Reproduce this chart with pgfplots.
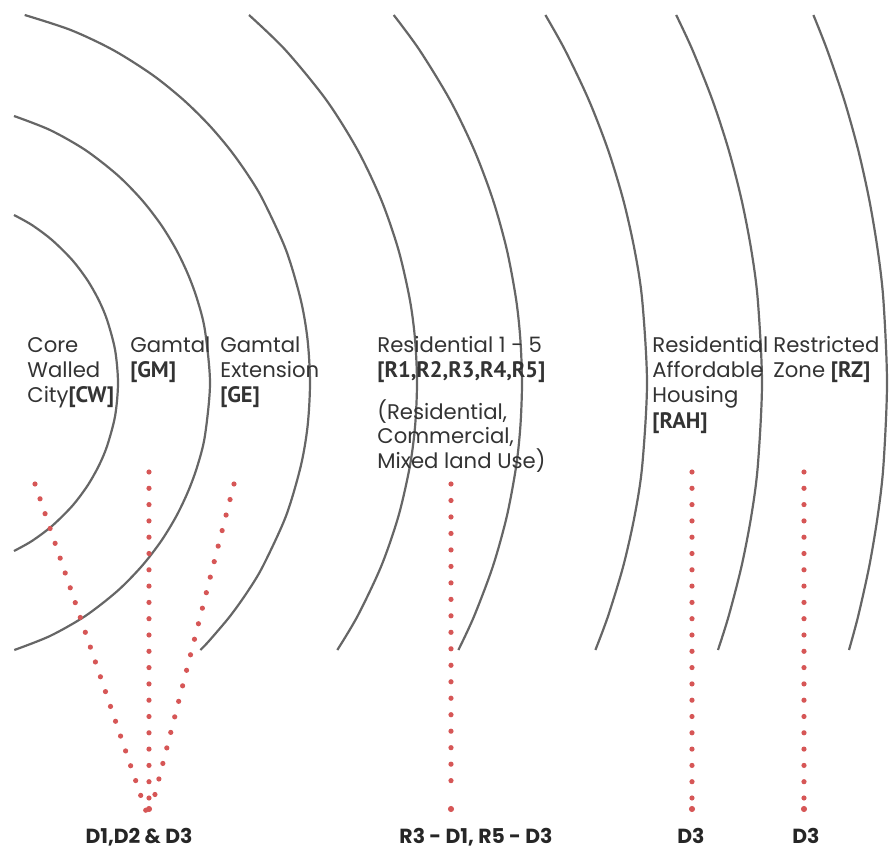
\documentclass[border=0pt]{standalone}
\usepackage{pgfplots}
\pgfplotsset{compat=1.18}
\usepackage{fontspec}
\setmainfont{Poppins}
\newfontfamily\ptsans{PT Sans}
\definecolor{arcgray}{HTML}{666666}
\definecolor{dotred}{HTML}{D65656}
\definecolor{txt}{HTML}{333333}
\newcommand{\B}[1]{{\ptsans\fontsize{11.2}{12}\selectfont\bfseries #1}}

\begin{document}
\begin{tikzpicture}[
  lbl/.style={inner sep=0pt, anchor=base west, text=txt, font=\fontsize{10.6}{12}\selectfont},
  note/.style={inner sep=0pt, anchor=base, text=black!85, font=\fontsize{10.2}{12}\selectfont\bfseries},
]
\begin{axis}[
  x=0.5pt, y=0.5pt, y dir=reverse,
  xmin=0, xmax=891, ymin=0, ymax=851,
  hide axis, clip=false,
]
% invisible frame, keeps the page size
\addplot[draw=none] coordinates {(0,0) (891,851)};

% concentric zone boundaries
\addplot[arcgray, line width=1.1pt, smooth] coordinates {
  (14,215) (31.9,225) (52,240) (72.2,260) (87.3,280) (98.7,300) (107.1,320) (115.1,350) (118,383)
  (115.1,416) (107.1,446) (98.7,466) (87.3,486) (72.2,506) (52,526) (31.9,541) (14,551)};
\addplot[arcgray, line width=1.1pt, smooth] coordinates {
  (14,116) (50,130) (85.3,150) (117.4,175) (141.9,200) (161.2,225) (176.4,250) (188.3,275) (197.4,300) (204.9,330) (210,383)
  (204.9,436) (197.4,466) (188.3,491) (176.4,516) (161.2,541) (141.9,566) (117.4,591) (85.3,616) (50,636) (14.3,650)};
\addplot[arcgray, line width=1.1pt, smooth] coordinates {
  (24.7,15) (70.7,30) (113.1,50) (152.6,75) (183.6,100) (209,125) (230.2,150) (248,175) (263,200) (286,250) (300.8,300) (307.6,340) (310,383)
  (307.6,426) (300.8,466) (286,516) (263,566) (248,591) (230.2,616) (209,641) (200.4,650)};
\addplot[arcgray, line width=1.1pt, smooth] coordinates {
  (249,15) (285.4,50) (326.3,100) (357.6,150) (381.3,200) (398.5,250) (409.9,300) (415.1,340) (417,383) (415.1,426) (409.9,466) (398.5,516) (381.3,566) (357.6,616) (337.3,650)};
\addplot[arcgray, line width=1.1pt, smooth] coordinates {
  (393.7,15) (419.5,50) (450,100) (474.2,150) (493,200) (506.9,250) (516.2,300) (520.4,340) (522,383) (520.4,426) (516.2,466) (506.9,516) (493,566) (474.2,616) (458.4,650)};
\addplot[arcgray, line width=1.1pt, smooth] coordinates {
  (545.4,15) (565,50) (588.8,100) (608.1,150) (623.3,200) (634.6,250) (642.2,300) (647,383) (642.2,466) (634.6,516) (623.3,566) (608.1,616) (595.4,650)};
\addplot[arcgray, line width=1.1pt, smooth] coordinates {
  (676.2,15) (692.5,50) (712.4,100) (728.7,150) (741.6,200) (751.3,250) (757.8,300) (762,383) (757.8,466) (751.3,516) (741.6,566) (728.7,616) (718,650)};
\addplot[arcgray, line width=1.1pt, smooth] coordinates {
  (813.4,15) (827.2,50) (844.2,100) (858.2,150) (869.3,200) (877.7,250) (883.4,300) (887,383) (883.4,466) (877.7,516) (869.3,566) (858.2,616) (849,650)};

% dotted leaders
\addplot[dotred, line width=2.6pt, line cap=round, dash pattern=on 0pt off 7.83pt] coordinates {(35,484) (146,811)};
\addplot[dotred, line width=2.6pt, line cap=round, dash pattern=on 0pt off 8.01pt] coordinates {(234,484) (151,810)};
\addplot[dotred, line width=2.6pt, line cap=round, dash pattern=on 0pt off 8.15pt] coordinates {(149,472) (149,798)};
\addplot[dotred, line width=2.6pt, line cap=round, dash pattern=on 0pt off 8.24pt] coordinates {(451,484) (451,797)};
\addplot[dotred, line width=2.6pt, line cap=round, dash pattern=on 0pt off 8.15pt] coordinates {(692,472) (692,798)};
\addplot[dotred, line width=2.6pt, line cap=round, dash pattern=on 0pt off 8.15pt] coordinates {(804,472) (804,798)};
\addplot[only marks, mark=*, mark size=1.3pt, dotred, mark options={draw=none, fill=dotred}] coordinates {(149,809) (451,809) (692,809) (804,809)};

% zone names
\node[lbl] at (axis cs:27,352) {Core};
\node[lbl] at (axis cs:27,377) {Walled};
\node[lbl] at (axis cs:27,402) {City\B{[CW]}};
\node[lbl] at (axis cs:130,352) {Gamtal};
\node[lbl] at (axis cs:130,377) {\B{[GM]}};
\node[lbl] at (axis cs:220,352) {Gamtal};
\node[lbl] at (axis cs:220,377) {Extension};
\node[lbl] at (axis cs:220,402) {\B{[GE]}};
\node[lbl] at (axis cs:377,352) {Residential 1 - 5};
\node[lbl] at (axis cs:377,377) {\B{[R1,R2,R3,R4,R5]}};
\node[lbl] at (axis cs:377,419) {(Residential,};
\node[lbl] at (axis cs:377,443) {Commercial,};
\node[lbl] at (axis cs:377,468) {Mixed land Use)};
\node[lbl] at (axis cs:652,352) {Residential};
\node[lbl] at (axis cs:652,377) {Affordable};
\node[lbl] at (axis cs:652,402) {Housing};
\node[lbl] at (axis cs:652,428) {\B{[RAH]}};
\node[lbl] at (axis cs:773,352) {Restricted};
\node[lbl] at (axis cs:773,377) {Zone \B{[RZ]}};

% bottom notes
\node[note] at (axis cs:139,843) {D1,D2 \& D3};
\node[note] at (axis cs:476,843) {R3 - D1, R5 - D3};
\node[note] at (axis cs:691,843) {D3};
\node[note] at (axis cs:806,843) {D3};
\end{axis}
\pgfresetboundingbox
\path (current axis.south west) rectangle (current axis.north east);
\end{tikzpicture}
\end{document}
